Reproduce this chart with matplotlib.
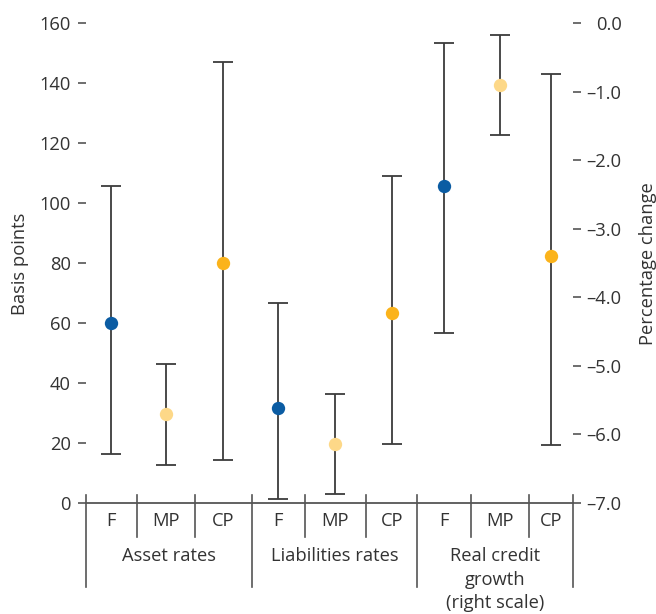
import matplotlib.pyplot as plt
import numpy as np

plt.rcParams['font.family'] = ['Open Sans', 'DejaVu Sans']

# 各组的估计值（点）及区间上下限
groups = ['Asset rates', 'Liabilities rates', 'Real credit\ngrowth\n(right scale)']
shocks = ['F', 'MP', 'CP']

asset_mid = [60.0, 29.6, 80.0]
asset_lo = [16.3, 12.8, 14.3]
asset_hi = [105.7, 46.2, 147.1]

liab_mid = [31.8, 19.8, 63.4]
liab_lo = [1.3, 3.0, 19.7]
liab_hi = [66.6, 36.3, 109.0]

credit_mid = [-2.38, -0.90, -3.40]
credit_lo = [-4.52, -1.63, -6.16]
credit_hi = [-0.29, -0.175, -0.74]

left_ticks = [0, 20, 40, 60, 80, 100, 120, 140, 160]
right_ticks = [-7.0, -6.0, -5.0, -4.0, -3.0, -2.0, -1.0, 0.0]

colors = ['#0b5ca3', '#fdd888', '#fbb31b']

# 每个子类别所占宽度（MP 稍宽）
cell_w = np.array([51, 58, 57, 53, 62, 51, 54, 58, 44], dtype=float)
edges = np.concatenate([[0], np.cumsum(cell_w)])
centers = (edges[:-1] + edges[1:]) / 2

W, H = 656, 614
fig = plt.figure(figsize=(W / 100, H / 100), dpi=100)
ax_l, ax_r, ax_b, ax_t = 86, 573, 503, 23
ax = fig.add_axes([ax_l / W, 1 - ax_b / H, (ax_r - ax_l) / W, (ax_b - ax_t) / H])
ax2 = ax.twinx()

ax.set_xlim(edges[0], edges[-1])
ax.set_ylim(0, 160)
ax2.set_ylim(-7, 0)

axis_c = '#555555'
bar_c = '#3c3c3c'
txt_c = '#333333'
fs = 13.2


def draw(axis, xs, mid, lo, hi):
	mid = np.array(mid)
	err = [mid - np.array(lo), np.array(hi) - mid]
	for i in range(3):
		axis.errorbar(xs[i], mid[i], yerr=[[err[0][i]], [err[1][i]]], fmt='none',
		              ecolor=bar_c, elinewidth=1.3, capsize=7.5, capthick=1.3,
		              zorder=2, clip_on=False)
		axis.plot(xs[i], mid[i], 'o', color=colors[i], markersize=9.6,
		          markeredgewidth=0, zorder=3, clip_on=False)


draw(ax, centers[0:3], asset_mid, asset_lo, asset_hi)
draw(ax, centers[3:6], liab_mid, liab_lo, liab_hi)
draw(ax2, centers[6:9], credit_mid, credit_lo, credit_hi)

# 坐标轴样式
for a in (ax, ax2):
	for s in ['top', 'left', 'right', 'bottom']:
		a.spines[s].set_visible(False)
ax.axhline(0, color=axis_c, lw=1.3, zorder=1, clip_on=False)

ax.set_xticks([])
ax.set_yticks(left_ticks)
ax.set_yticklabels([str(t) for t in left_ticks])
ax.tick_params(axis='y', length=6, width=1.2, color=axis_c, pad=5,
               labelsize=fs, labelcolor=txt_c)

ax2.set_yticks(right_ticks)
ax2.set_yticklabels([('%.1f' % t).replace('-', '\u2013') for t in right_ticks])
ax2.tick_params(axis='y', length=6, width=1.2, color=axis_c, pad=29,
                labelsize=fs, labelcolor=txt_c)
for lab in ax2.get_yticklabels():
	lab.set_horizontalalignment('right')

# 分隔线与分类标签
tr = ax.get_xaxis_transform()
ph = ax_b - ax_t
for k, x in enumerate(edges):
	bottom = -84 / ph if k % 3 == 0 else -34 / ph
	ax.plot([x, x], [8 / ph, bottom], color=axis_c, lw=1.2,
	        transform=tr, clip_on=False)

for k, c in enumerate(centers):
	ax.text(c, -18 / ph, shocks[k % 3], transform=tr, ha='center', va='center',
	        fontsize=fs, color=txt_c)

for g in range(3):
	gc = (edges[3 * g] + edges[3 * g + 3]) / 2
	ax.text(gc, -44 / ph, groups[g], transform=tr, ha='center', va='top',
	        fontsize=fs, color=txt_c, linespacing=1.4)

fig.text(20 / W, 1 - 264 / H, 'Basis points', rotation=90, ha='center',
         va='center', fontsize=fs, color=txt_c)
fig.text(648 / W, 1 - 264 / H, 'Percentage change', rotation=90, ha='center',
         va='center', fontsize=fs, color=txt_c)

fig.savefig('out.png', dpi=100)
